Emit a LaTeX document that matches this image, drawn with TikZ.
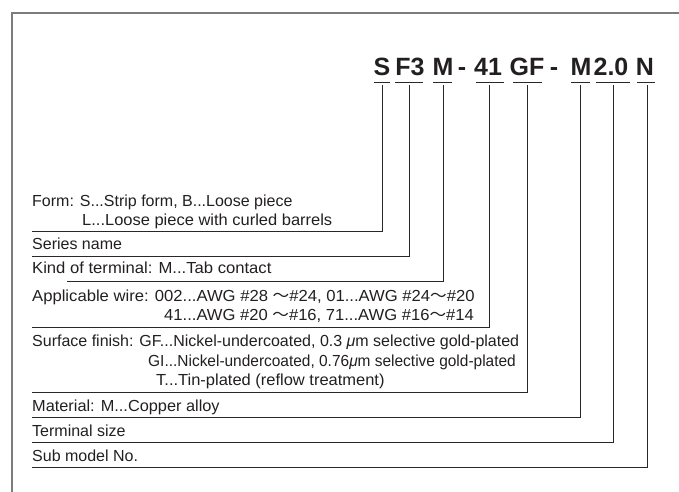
\documentclass[tikz,border=0pt]{standalone}
\usepackage{fontspec}
\setmainfont{Liberation Sans}
\newfontfamily\cjkfont{Noto Sans CJK JP}
\newcommand{\wdash}{{\cjkfont ～}}
\newcommand{\hsc}[2]{\scalebox{#1}[1]{#2}}
\definecolor{linec}{HTML}{2B2728}
\definecolor{framec}{HTML}{7E7B7C}
\definecolor{textc}{HTML}{231F20}
\begin{document}
\begin{tikzpicture}[x=1pt,y=-1pt,
  code/.style={font=\fontsize{25}{28}\selectfont\bfseries, text=textc, anchor=base, inner sep=0pt},
  desc/.style={font=\fontsize{16}{19}\selectfont, text=textc, anchor=base west, inner sep=0pt},
  descr/.style={desc, anchor=base east},
  leader/.style={draw=linec, line width=0.9pt},
  uline/.style={draw=linec, line width=0.9pt},
  frame/.style={draw=framec, line width=1.4pt}]
\useasboundingbox (0,0) rectangle (679,491);
% frame
\draw[frame] (680,13) -- (12,13) -- (12,492);
% code
\node[code] (cS)  at (382,75) {S};
\node[code] (cF)  at (410,75) {F3};
\node[code] (cM)  at (443,75) {M};
\node[code] (cD1) at (462,75) {-};
\node[code] (c41) at (488,75) {41};
\node[code] (cGF) at (527,75) {GF};
\node[code] (cD2) at (554,75) {-};
\node[code] (cM2) at (581,75) {M};
\node[code] (c20) at (611,75) {2.0};
\node[code] (cN)  at (645,75) {N};
% underlines
\draw[uline] (374,82) -- (390,82);
\draw[uline] (395,82) -- (423,82);
\draw[uline] (433,82) -- (452,82);
\draw[uline] (476,82) -- (504,82);
\draw[uline] (513,82) -- (542,82);
\draw[uline] (571,82) -- (590,82);
\draw[uline] (596,82) -- (630,82);
\draw[uline] (637,82) -- (655,82);
% leader tops
\coordinate (tS)  at (382,85);
\coordinate (tF)  at (409,85);
\coordinate (tM)  at (443,85);
\coordinate (t41) at (489,85);
\coordinate (tGF) at (527,85);
\coordinate (tM2) at (580,85);
\coordinate (t20) at (613,85);
\coordinate (tN)  at (647,85);
% leader ends
\coordinate (eS)  at (32,231.5);
\coordinate (eF)  at (32,256.5);
\coordinate (eM)  at (67,281);
\coordinate (e41) at (32,327.5);
\coordinate (eGF) at (32,392.5);
\coordinate (eM2) at (32,417.5);
\coordinate (e20) at (32,442.5);
\coordinate (eN)  at (32,467.5);
\draw[leader] (tS)  |- (eS);
\draw[leader] (tF)  |- (eF);
\draw[leader] (tM)  |- (eM);
\draw[leader] (t41) |- (e41);
\draw[leader] (tGF) |- (eGF);
\draw[leader] (tM2) |- (eM2);
\draw[leader] (t20) |- (e20);
\draw[leader] (tN)  |- (eN);
% descriptions
\node[desc] (dForm1) at (32,206) {Form: S...Strip form, B...Loose piece};
\node[desc] (dForm2) at (82,225) {\hsc{1.03}{L...Loose piece with curled barrels}};
\node[desc] (dSer) at (32,249.5) {Series name};
\node[desc] (dKind) at (32,273.5) {\hsc{1.04}{Kind of terminal: M...Tab contact}};
\node[desc] (dApp1) at (32,301) {\hsc{1.04}{Applicable wire: 002...AWG \#28 \wdash\#24, 01...AWG \#24\wdash\#20}};
\node[descr] (dApp2) at (474,320) {\hsc{1.037}{41...AWG \#20 \wdash\#16, 71...AWG \#16\wdash\#14}};
\node[desc] (dSur1) at (32,346) {Surface finish: GF...Nickel-undercoated, 0.3 \textit{μ}m selective gold-plated};
\node[descr] (dSur2) at (516,366) {\hsc{0.966}{GI...Nickel-undercoated, 0.76\textit{μ}m selective gold-plated}};
\node[desc] (dSur3) at (156,385.5) {\hsc{1.03}{T...Tin-plated (reflow treatment)}};
\node[desc] (dMat) at (32,411.5) {\hsc{1.02}{Material: M...Copper alloy}};
\node[desc] (dTer) at (32,436) {Terminal size};
\node[desc] (dSub) at (32,461) {Sub model No.};
\end{tikzpicture}
\end{document}
